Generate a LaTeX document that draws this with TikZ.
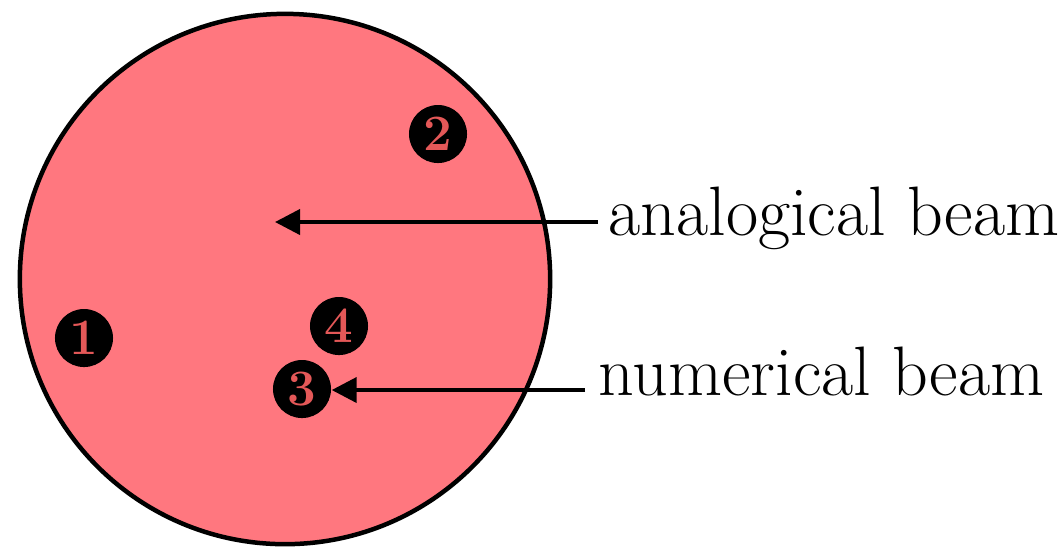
\documentclass[tikz,border=0pt]{standalone}
\usetikzlibrary{arrows.meta}
\definecolor{beamfill}{RGB}{255,119,127}
\definecolor{numred}{RGB}{228,88,88}
\begin{document}
\begin{tikzpicture}[x=0.01cm,y=-0.01cm,
  num/.style={circle,fill=black,inner sep=0pt,minimum size=0.58cm,text=numred,font=\fontsize{14.5}{16}\selectfont\bfseries},
  lbl/.style={anchor=base west,inner sep=0pt,font=\fontsize{19.9}{24}\selectfont},
  arr/.style={line width=0.04cm,-{Triangle[length=0.25cm,width=0.25cm]}}]
\useasboundingbox (0,0) rectangle (1064,547);
\node[circle,draw=black,fill=beamfill,line width=0.045cm,minimum size=5.30cm,inner sep=0pt] (beam) at (285,279) {};
\node[num] (c1) at (84,338) {1};
\node[num] (c2) at (438,134) {2};
\node[num] (c4) at (339,326) {4};
\node[num] (c3) at (302,389) {3};
\node[lbl] (t1) at (608,235) {analogical beam};
\node[lbl] (t2) at (598,395) {numerical beam};
\coordinate (s1) at (598,222);
\coordinate (e1) at (275,222);
\coordinate (s2) at (585,390);
\draw[arr] (s1) -- (e1);
\draw[arr] (s2) -- (c3.east |- s2);
\end{tikzpicture}
\end{document}
